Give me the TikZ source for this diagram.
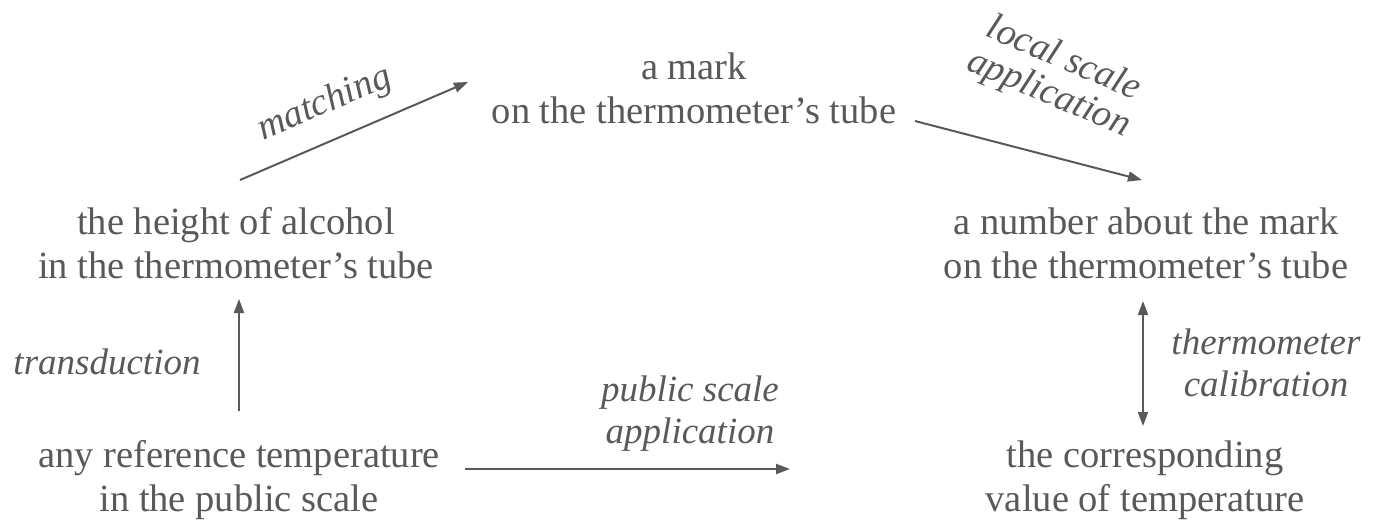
\documentclass[tikz,border=0pt]{standalone}
\usepackage{fontspec}
\setmainfont{Liberation Serif}
\usetikzlibrary{arrows.meta}
\definecolor{ink}{HTML}{595959}
\begin{document}
\begin{tikzpicture}[x=1pt,y=-1pt,
  every node/.style={text=ink,align=center,inner sep=0pt,font=\fontsize{38.5}{44}\selectfont},
  lab/.style={font=\fontsize{37}{42}\selectfont\itshape},
  rlab/.style={font=\fontsize{38}{38}\selectfont\itshape},
  conn/.style={draw=ink,line width=2pt,-{Triangle[length=14pt,width=10pt]}},
  conn2/.style={draw=ink,line width=2pt,{Triangle[length=14pt,width=10pt]}-{Triangle[length=14pt,width=10pt]}}]
\useasboundingbox (0,0) rectangle (1374,520);
% nodes
\node (mark) at (694,88) {a mark\\on the thermometer’s tube};
\node (height) at (236,243) {the height of alcohol\\in the thermometer’s tube};
\node (number) at (1146,243) {a number about the mark\\on the thermometer’s tube};
\node (any) at (239,480) {any reference temperature\\in the public scale};
\node (corr) at (1145,480) {the corresponding\\value of temperature};
% connector end points
\coordinate (m1) at (240,180);
\coordinate (m2) at (468,82);
\coordinate (l1) at (915,121);
\coordinate (l2) at (1142,180);
\coordinate (t1) at (239,411);
\coordinate (t2) at (239,299);
\coordinate (c1) at (1143,301);
\coordinate (c2) at (1143,426);
\coordinate (p1) at (465,469);
\coordinate (p2) at (790,469);
% connectors
\draw[conn] (m1) -- (m2);
\draw[conn] (l1) -- (l2);
\draw[conn] (t1) -- (t2);
\draw[conn2] (c1) -- (c2);
\draw[conn] (p1) -- (p2);
% labels
\node[rlab,rotate=23] (lmatch) at (325,104) {matching};
\node[rlab,rotate=-23] (llocal) at (1056,77) {local scale\\application};
\node[lab] (ltrans) at (107,362) {transduction};
\node[lab] (lcal) at (1266,363) {thermometer\\calibration};
\node[lab] (lpub) at (690,414) {public scale\\application};
\end{tikzpicture}
\end{document}
